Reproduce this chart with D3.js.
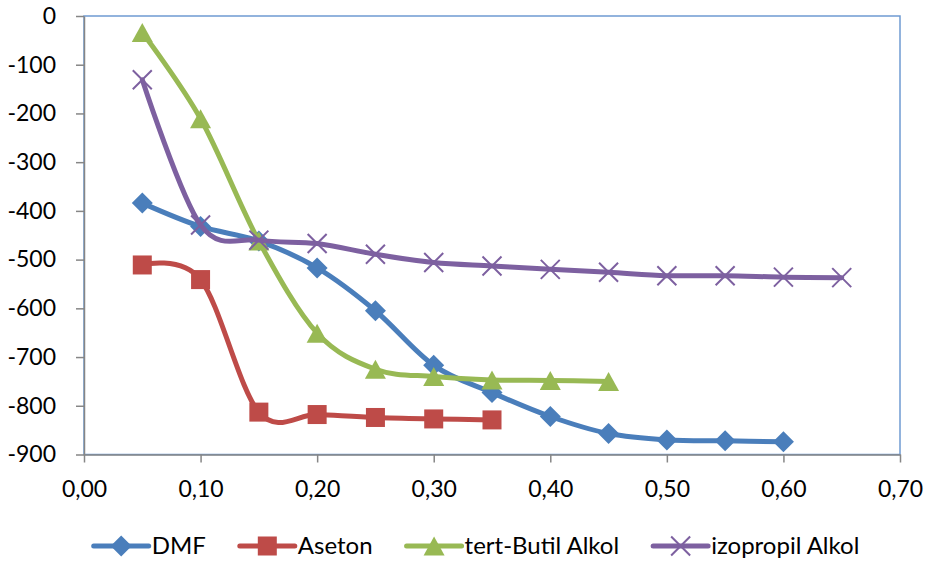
<!DOCTYPE html>
<html>
<head>
<meta charset="utf-8">
<script src="https://cdn.jsdelivr.net/npm/d3@7"></script>
<style>
  html, body { margin: 0; padding: 0; background: #fff; }
  svg { display: block; }
  text { font-family: Lato, "Open Sans", sans-serif; fill: #000; }
</style>
</head>
<body>
<svg id="chart" width="932" height="566"></svg>
<script>
// Mole fraction on the x axis, energy on the y axis
const xTickValues = [0, 0.1, 0.2, 0.3, 0.4, 0.5, 0.6, 0.7];
const yTickValues = [0, -100, -200, -300, -400, -500, -600, -700, -800, -900];

const seriesNames = ["DMF", "Aseton", "tert-Butil Alkol", "izopropil Alkol"];
const seriesColors = ["#4a7ebb", "#be4b48", "#98b954", "#7d60a0"];
const seriesMarkers = ["diamond", "square", "triangle", "cross"];

const xDMF = [0.05, 0.10, 0.15, 0.20, 0.25, 0.30, 0.35, 0.40, 0.45, 0.50, 0.55, 0.60];
const yDMF = [-384, -432, -462, -517, -605, -717, -773, -822, -857, -870, -872, -874];

const xAseton = [0.05, 0.10, 0.15, 0.20, 0.25, 0.30, 0.35];
const yAseton = [-511, -541, -813, -818, -824, -827, -829];

const xTertButil = [0.05, 0.10, 0.15, 0.20, 0.25, 0.30, 0.35, 0.40, 0.45];
const yTertButil = [-34, -211, -462, -651, -725, -740, -747, -748, -750];

const xIzopropil = [0.05, 0.10, 0.15, 0.20, 0.25, 0.30, 0.35, 0.40, 0.45, 0.50, 0.55, 0.60, 0.65];
const yIzopropil = [-131, -429, -460, -467, -489, -506, -513, -520, -526, -533, -533, -536, -537];

const seriesX = [xDMF, xAseton, xTertButil, xIzopropil];
const seriesY = [yDMF, yAseton, yTertButil, yIzopropil];

const svg = d3.select("#chart");
const plot = { left: 84, right: 900, top: 16, bottom: 454.5 };

const x = d3.scaleLinear().domain([0, 0.7]).range([plot.left, plot.right]);
const y = d3.scaleLinear().domain([-900, 0]).range([plot.bottom, plot.top]);

const locale = d3.formatLocale({ decimal: ",", thousands: ".", grouping: [3], currency: ["", ""], minus: "-" });
const fmtX = locale.format(".2f");
const fmtY = locale.format("d");

// Plot area border
svg.append("rect")
  .attr("x", plot.left).attr("y", plot.top)
  .attr("width", plot.right - plot.left).attr("height", plot.bottom - plot.top)
  .attr("fill", "none").attr("stroke", "#6f9bd2").attr("stroke-width", 1.5);

// Axes
const axisColor = "#868686";
const yAxis = svg.append("g")
  .attr("transform", `translate(${plot.left},0)`)
  .call(d3.axisLeft(y).tickValues(yTickValues).tickFormat(fmtY).tickSize(8).tickSizeOuter(0).tickPadding(20));
const xAxis = svg.append("g")
  .attr("transform", `translate(0,${plot.bottom})`)
  .call(d3.axisBottom(x).tickValues(xTickValues).tickFormat(fmtX).tickSize(8).tickSizeOuter(0).tickPadding(18));

[xAxis, yAxis].forEach(a => {
  a.select(".domain").attr("stroke", axisColor).attr("stroke-width", 1.5);
  a.selectAll(".tick line").attr("stroke", axisColor).attr("stroke-width", 1.5);
  a.selectAll(".tick text").attr("font-size", 23).attr("fill", "#000")
    .style("font-family", "Lato, 'Open Sans', sans-serif");
});

// Marker shapes
function drawMarker(g, type, color, cx, cy) {
  if (type === "diamond") {
    g.append("path")
      .attr("d", `M${cx},${cy - 10.5}L${cx + 10.5},${cy}L${cx},${cy + 10.5}L${cx - 10.5},${cy}Z`)
      .attr("fill", color);
  } else if (type === "square") {
    g.append("rect")
      .attr("x", cx - 9.5).attr("y", cy - 9.5).attr("width", 19).attr("height", 19)
      .attr("fill", color);
  } else if (type === "triangle") {
    g.append("path")
      .attr("d", `M${cx},${cy - 9.5}L${cx + 10.5},${cy + 9.5}L${cx - 10.5},${cy + 9.5}Z`)
      .attr("fill", color);
  } else if (type === "cross") {
    g.append("path")
      .attr("d", `M${cx - 9.5},${cy - 9.5}L${cx + 9.5},${cy + 9.5}M${cx + 9.5},${cy - 9.5}L${cx - 9.5},${cy + 9.5}`)
      .attr("stroke", color).attr("stroke-width", 2).attr("fill", "none");
  }
}

const line = d3.line()
  .x(d => x(d[0]))
  .y(d => y(d[1]))
  .curve(d3.curveCardinal.tension(0));

seriesNames.forEach((name, i) => {
  const pts = seriesX[i].map((v, j) => [v, seriesY[i][j]]);
  const g = svg.append("g").attr("class", "series");
  g.append("path")
    .datum(pts)
    .attr("d", line)
    .attr("fill", "none")
    .attr("stroke", seriesColors[i])
    .attr("stroke-width", 5)
    .attr("stroke-linejoin", "round")
    .attr("stroke-linecap", "round");
  pts.forEach(p => drawMarker(g, seriesMarkers[i], seriesColors[i], x(p[0]), y(p[1])));
});

// Legend along the bottom
const legend = svg.append("g").attr("class", "legend");
const legendY = 546;
const lineLen = 55, textGap = 3, itemGap = 34;
let cursor = 0;
const items = [];
seriesNames.forEach((name, i) => {
  const item = legend.append("g");
  item.append("line")
    .attr("x1", 0).attr("x2", lineLen).attr("y1", 0).attr("y2", 0)
    .attr("stroke", seriesColors[i]).attr("stroke-width", 5).attr("stroke-linecap", "round");
  drawMarker(item, seriesMarkers[i], seriesColors[i], lineLen / 2, 0);
  const t = item.append("text")
    .attr("x", lineLen + textGap).attr("y", 0)
    .attr("dy", "0.35em")
    .attr("font-size", 24)
    .text(name);
  const w = lineLen + textGap + t.node().getComputedTextLength();
  items.push({ item, offset: cursor });
  cursor += w + itemGap;
});
const total = cursor - itemGap;
const start = 476.5 - total / 2;
items.forEach(d => d.item.attr("transform", `translate(${start + d.offset},${legendY})`));
</script>
</body>
</html>
